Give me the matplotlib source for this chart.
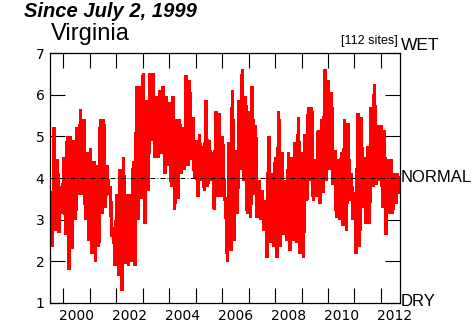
import matplotlib
matplotlib.use("Agg")
import matplotlib.pyplot as plt
import matplotlib.dates as mdates
import numpy as np
import pandas as pd

# Statewide index (1 = dry, 4 = normal, 7 = wet), upper and lower swing of
# each ~6-week window, from July 1999 through September 2012.
peaks = [
    3.35, 5.2, 4.45, 3.8, 4.5, 5.0, 5.0, 4.9, 5.2, 5.65,
    5.4, 4.6, 4.7, 4.4, 4.3, 5.4, 5.4, 4.3, 3.8, 2.8,
    3.6, 4.2, 4.5, 3.6, 3.6, 4.4, 6.2,
    6.2, 6.5, 5.85, 6.5, 6.5, 5.95, 6.1, 6.2, 5.95, 5.8,
    5.95, 5.4, 5.4, 5.2, 6.45, 6.35, 5.45, 4.9, 5.05, 4.75,
    5.85, 4.9, 4.6, 5.6, 5.55, 5.0, 3.4,
    4.85, 6.1, 4.65, 5.85, 6.6, 5.95, 5.6, 6.2, 5.25, 3.95,
    3.7, 3.45, 5.0, 4.1, 4.5, 5.6, 4.6, 3.95, 4.6, 4.5,
    4.85, 5.45, 4.6, 5.05, 5.7, 5.7,
    4.45, 5.15, 5.4, 6.6, 6.35, 6.05, 4.65, 4.45, 4.6, 5.4,
    5.3, 4.1, 3.65, 5.55, 5.45, 4.5, 4.75, 5.7, 6.25, 5.25,
    5.25, 5.15, 4.45, 4.45, 4.1, 4.1,
]
troughs = [
    2.35, 2.75, 2.7, 3.15, 2.65, 1.8, 2.3, 3.0, 3.6, 3.6,
    3.0, 2.5, 2.2, 2.0, 2.35, 3.15, 3.3, 3.6, 2.6, 1.9,
    1.65, 1.3, 1.95, 1.9, 2.0, 1.9, 3.0,
    3.5, 2.9, 3.7, 4.9, 4.5, 4.5, 4.6, 4.1, 4.3, 3.8,
    3.25, 3.5, 4.1, 4.2, 4.3, 4.45, 4.0, 3.55, 3.95, 3.7,
    3.8, 3.95, 3.25, 3.55, 3.55, 3.6, 2.0,
    2.25, 2.5, 3.15, 4.2, 3.95, 3.15, 3.05, 3.6, 3.05, 3.0,
    2.75, 2.1, 2.45, 2.35, 2.1, 2.35, 2.65, 2.5, 2.25, 2.5,
    2.45, 2.2, 2.1, 3.45, 3.95, 3.45,
    3.55, 3.4, 3.65, 3.95, 4.2, 3.85, 3.05, 3.0, 2.85, 2.75,
    3.45, 3.0, 2.2, 2.35, 3.3, 2.9, 2.9, 3.8, 3.85, 3.95,
    3.3, 2.65, 3.15, 3.15, 3.4, 3.65,
]
start_date = "1999-07-02"
end_date = "2012-09-20"
year_labels = [2000, 2002, 2004, 2006, 2008, 2010, 2012]
y_ticks = [1, 2, 3, 4, 5, 6, 7]
normal_level = 4
site_count = 112
state = "Virginia"

# interleave the swings into one series
values = np.column_stack([peaks, troughs]).ravel()
t0, t1 = pd.Timestamp(start_date), pd.Timestamp(end_date)
edges = pd.date_range(t0, t1, periods=2 * len(values) + 1)
dates = edges[1::2]

W, H = 475, 326
fig = plt.figure(figsize=(W / 100, H / 100), dpi=100)
fig.patch.set_facecolor("white")
ax = fig.add_axes([50 / W, 23 / H, 350 / W, 250 / H])

ax.plot(dates, values, color="#ff0000", lw=1.8, solid_joinstyle="miter",
        antialiased=False, zorder=2)
ax.axhline(normal_level, color="black", lw=0.72,
           dashes=(5, 2, 1, 2), zorder=3)

ax.set_xlim(t0, t1)
ax.set_ylim(y_ticks[0], y_ticks[-1])
ax.set_yticks(y_ticks)
ax.set_yticklabels([str(v) for v in y_ticks])

ax.xaxis.set_major_locator(mdates.YearLocator())
ax.xaxis.set_major_formatter(plt.NullFormatter())
ax.set_xticks([pd.Timestamp(f"{y}-07-02") for y in year_labels], minor=True)
ax.set_xticklabels([str(y) for y in year_labels], minor=True)

ax.tick_params(axis="x", which="major", direction="in", length=10.5,
               width=0.8, top=True, bottom=True, color="black")
ax.tick_params(axis="x", which="minor", length=0, pad=4, labelsize=10)
ax.tick_params(axis="y", which="major", direction="in", length=10.5,
               width=0.8, left=True, right=True, labelsize=10, pad=4)
ax.yaxis.set_minor_locator(plt.NullLocator())
for s in ax.spines.values():
    s.set_linewidth(0.9)
    s.set_color("black")

# headings
fig.text(24 / W, 1 - 17 / H, "Since July 2, 1999", fontsize=14.5,
         fontweight="bold", fontstyle="italic", family="Liberation Sans",
         ha="left", va="baseline")
fig.text(51 / W, 1 - 40 / H, state, fontsize=17, family="Liberation Sans",
         ha="left", va="baseline")
fig.text(398 / W, 1 - 44 / H, f"[{site_count} sites]", fontsize=9,
         family="Liberation Sans", ha="right", va="baseline")

# scale words on the right
fig.text(401 / W, 1 - 50 / H, "WET", fontsize=12.5, family="Liberation Sans",
         ha="left", va="baseline")
fig.text(401 / W, 1 - 178 / H, "NORMAL", fontsize=12, family="Liberation Sans",
         ha="left", va="center")
fig.text(401 / W, 1 - 302 / H, "DRY", fontsize=12, family="Liberation Sans",
         ha="left", va="center")

fig.savefig("out.png", dpi=100)
